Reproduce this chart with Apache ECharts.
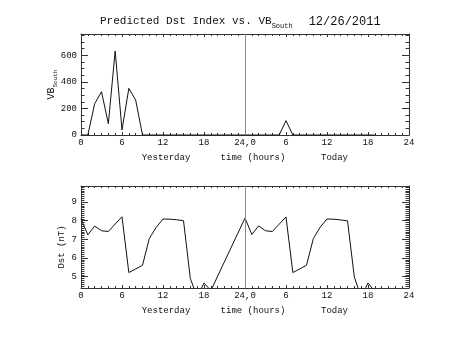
<!DOCTYPE html>
<html>
<head>
<meta charset="utf-8">
<script src="https://cdn.jsdelivr.net/npm/echarts@6/dist/echarts.min.js"></script>
<style>
  html, body { margin: 0; padding: 0; background: #fff; }
  #chart { width: 453px; height: 340px; }
</style>
</head>
<body>
<div id="chart"></div>
<script>
// Hourly VB(south) values, yesterday (0-23) and today (24-43)
const vbHours = [0, 1, 2, 3, 4, 5, 6, 7, 8, 9, 10, 11, 12, 13, 14, 15, 16, 17, 18, 19, 20, 21, 22, 23,
                 24, 25, 26, 27, 28, 29, 30, 31, 32, 33, 34, 35, 36, 37, 38, 39, 40, 41, 42, 43];
const vbValues = [0, 0, 235, 326, 85, 632, 38, 351, 263, 0, 0, 0, 0, 0, 0, 0, 0, 0, 0, 0, 0, 0, 0, 0,
                  0, 0, 0, 0, 0, 0, 108, 0, 0, 0, 0, 0, 0, 0, 0, 0, 0, 0, 0, 0];

// Predicted Dst (nT)
const dstHours = [0, 1, 2, 3, 4, 5, 6, 7, 8, 9, 10, 11, 12, 13, 14, 15, 16, 17, 18, 19,
                  24, 25, 26, 27, 28, 29, 30, 31, 32, 33, 34, 35, 36, 37, 38, 39, 40, 41, 42, 43];
const dstValues = [8.10, 7.24, 7.71, 7.46, 7.42, 7.82, 8.21, 5.22, 5.41, 5.61, 7.05, 7.64, 8.09, 8.08, 8.05, 8.00, 4.90, 3.90, 4.66, 4.25,
                   8.14, 7.26, 7.72, 7.46, 7.42, 7.81, 8.20, 5.22, 5.41, 5.61, 7.04, 7.65, 8.09, 8.08, 8.04, 7.99, 4.98, 3.90, 4.66, 4.20];

// Time axis tick labels (every 6 hours) and the captions under them
const xTickValues = [0, 6, 12, 18, 24, 30, 36, 42, 48];
const xTickLabels = ['0', '6', '12', '18', '24,0', '6', '12', '18', '24'];
const xCaptions = { 12: 'Yesterday', 24: 'time (hours)', 36: 'Today' };
const xCaptionShift = { 12: 6, 24: 16, 36: 15 };

const dayBoundary = 24;
const FONT = 'Liberation Mono';
const INK = '#111';
const AXIS = '#333';

function pairs(xs, ys) { return xs.map((x, i) => [x, ys[i]]); }

function xAxisPair(gridIndex, withLabels) {
  const rich = { t: { fontFamily: FONT, fontSize: 9, color: INK, lineHeight: 12 } };
  Object.keys(xCaptions).forEach(k => {
    rich['c' + k] = { fontFamily: FONT, fontSize: 9, color: INK, lineHeight: 18,
                      padding: [0, 0, 0, xCaptionShift[k]] };
  });
  const base = {
    type: 'value', gridIndex, min: 0, max: 48, interval: 6,
    axisLine: { show: true, onZero: false, lineStyle: { color: AXIS, width: 1 } },
    axisTick: { show: true, inside: true, length: 3, lineStyle: { color: AXIS } },
    minorTick: { show: true, splitNumber: 6, length: 2, lineStyle: { color: AXIS } },
    splitLine: { show: false }, minorSplitLine: { show: false }
  };
  return [
    Object.assign({}, base, {
      position: 'bottom',
      axisLabel: {
        show: withLabels, margin: 2, rich,
        formatter: v => {
          const i = xTickValues.indexOf(v);
          if (i < 0) return '';
          let s = '{t|' + xTickLabels[i] + '}';
          if (xCaptions[v]) s += '\n{c' + v + '|' + xCaptions[v] + '}';
          return s;
        }
      }
    }),
    Object.assign({}, base, { position: 'top', axisLabel: { show: false } })
  ];
}

function yAxisPair(gridIndex, min, max, minorSplit, name, nameRich, nameGap, namePadding) {
  const base = {
    type: 'value', gridIndex, min, max,
    axisLine: { show: true, onZero: false, lineStyle: { color: AXIS, width: 1 } },
    axisTick: { show: true, inside: true, length: 7, lineStyle: { color: AXIS } },
    minorTick: { show: true, splitNumber: minorSplit, length: 3.5, lineStyle: { color: AXIS } },
    splitLine: { show: false }, minorSplitLine: { show: false }
  };
  return [
    Object.assign({}, base, {
      position: 'left',
      name, nameLocation: 'middle', nameGap, nameMoveOverlap: false,
      nameTextStyle: { rich: nameRich, padding: namePadding },
      axisLabel: { show: true, margin: 4, fontFamily: FONT, fontSize: 9, color: INK,
                   showMinLabel: min === 0, showMaxLabel: false,
                   formatter: v => (Math.abs(v - Math.round(v)) < 1e-9 ? String(Math.round(v)) : '') }
    }),
    Object.assign({}, base, { position: 'right', axisLabel: { show: false } })
  ];
}

const dayLine = {
  silent: true, symbol: 'none', label: { show: false },
  lineStyle: { color: '#8a8a8a', type: 'solid', width: 1 },
  emphasis: { disabled: true },
  data: [{ xAxis: dayBoundary }]
};

const chart = echarts.init(document.getElementById('chart'), null, { renderer: 'canvas' });
chart.setOption({
  animation: false,
  backgroundColor: '#fff',
  title: {
    left: 100, top: 16, padding: 0,
    text: '{a|Predicted Dst Index vs. VB}{s|South}{d|12/26/2011}',
    textStyle: {
      fontWeight: 'normal',
      rich: {
        a: { fontFamily: FONT, fontSize: 11, fontWeight: 'normal', color: INK, lineHeight: 14, verticalAlign: 'top' },
        s: { fontFamily: FONT, fontSize: 7, fontWeight: 'normal', color: INK, lineHeight: 9, verticalAlign: 'bottom', padding: [9, 0, 0, 0] },
        d: { fontFamily: FONT, fontSize: 12, fontWeight: 'normal', color: INK, lineHeight: 14, verticalAlign: 'top', padding: [0, 0, 0, 16] }
      }
    }
  },
  grid: [
    { left: 81, right: 44, top: 34, height: 101, containLabel: false, outerBoundsMode: 'none' },
    { left: 81, right: 44, top: 186, height: 102, containLabel: false, outerBoundsMode: 'none' }
  ],
  xAxis: [...xAxisPair(0, true), ...xAxisPair(1, true)],
  yAxis: [
    ...yAxisPair(0, 0, 760, 4, '{a|VB}{s|South}', {
      a: { fontFamily: FONT, fontSize: 10, color: INK, lineHeight: 12, verticalAlign: 'top' },
      s: { fontFamily: FONT, fontSize: 6, color: INK, lineHeight: 7, verticalAlign: 'bottom', padding: [8, 0, 0, 0] }
    }, 23, [0, 0, 0, 0]),
    ...yAxisPair(1, 4.39, 9.86, 10, '{a|Dst (nT)}', {
      a: { fontFamily: FONT, fontSize: 9, color: INK, lineHeight: 11 }
    }, 14, [0, 20, 0, 0])
  ],
  series: [
    {
      type: 'line', xAxisIndex: 0, yAxisIndex: 0, data: pairs(vbHours, vbValues),
      symbol: 'none', clip: true, lineStyle: { color: '#111', width: 1 },
      markLine: dayLine
    },
    {
      type: 'line', xAxisIndex: 2, yAxisIndex: 2, data: pairs(dstHours, dstValues),
      symbol: 'none', clip: true, lineStyle: { color: '#111', width: 1 },
      markLine: dayLine
    }
  ]
});
</script>
</body>
</html>
